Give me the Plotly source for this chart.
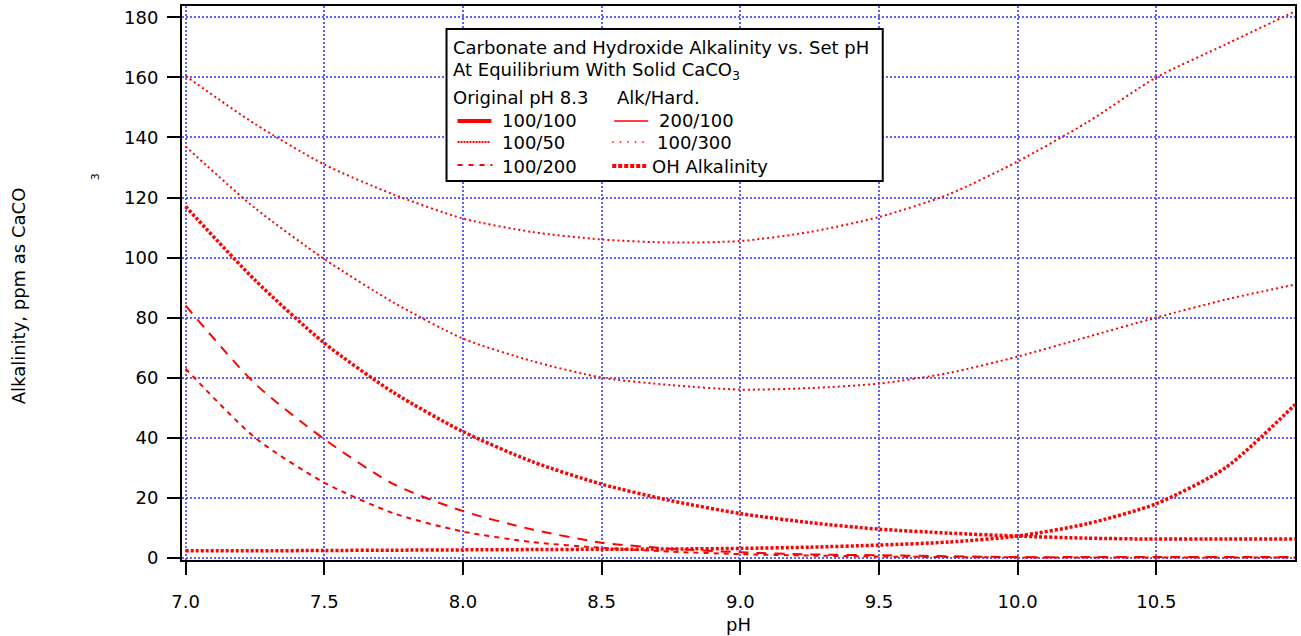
import plotly.graph_objects as go

# ---------------- data ----------------
ph = [7.0, 7.25, 7.5, 7.75, 8.0, 8.25, 8.5, 8.75, 9.0, 9.25, 9.5, 9.75,
      10.0, 10.25, 10.5, 10.75, 11.0]

alk_100_50 = [160.5, 144.5, 131, 121, 113, 108.5, 106, 105, 105.5, 108.5,
              113.5, 121, 132, 145, 160, 171, 182]
alk_200_100 = [137, 116.5, 99.5, 85, 73, 65.5, 60, 57.5, 56, 56.5, 58, 61.5,
               67, 73.5, 80, 86, 91]
alk_100_100 = [117, 92.5, 71.5, 55, 42, 32, 24.5, 19, 14.7, 11.7, 9.5, 8.2,
               7.2, 6.5, 6.2, 6.2, 6.2]
alk_100_200 = [84, 58, 39.5, 24.5, 15.5, 9.4, 5.0, 3.0, 1.8, 1.1, 0.8, 0.5,
               0.2, 0.2, 0.2, 0.2, 0.2]
alk_100_300 = [63, 40, 25, 14.8, 8.7, 5.2, 3.3, 2.0, 1.2, 0.7, 0.4, 0.2,
               0.1, 0.1, 0.1, 0.1, 0.1]
alk_oh = [2.3, 2.3, 2.4, 2.5, 2.6, 2.7, 2.8, 2.9, 3.1, 3.5, 4.2, 5.2, 7.2,
          11.3, 18, 30, 51]

x_tick_vals = [7.0, 7.5, 8.0, 8.5, 9.0, 9.5, 10.0, 10.5]
x_tick_text = ["7.0", "7.5", "8.0", "8.5", "9.0", "9.5", "10.0", "10.5"]
y_tick_vals = [0, 20, 40, 60, 80, 100, 120, 140, 160, 180]
y_tick_text = ["0", "20", "40", "60", "80", "100", "120", "140", "160", "180"]

legend_title_1 = "Carbonate and Hydroxide Alkalinity vs. Set pH"
legend_title_2 = "At Equilibrium With Solid CaCO<sub>3</sub>"
legend_head_left = "Original pH 8.3"
legend_head_right = "Alk/Hard."
legend_labels = ["100/100", "100/50", "100/200", "200/100", "100/300",
                 "OH Alkalinity"]

# ---------------- layout geometry ----------------
W, H = 1301, 636
L, R, T, B = 182, 1297, 6, 560
FONT = "DejaVu Sans, Verdana, sans-serif"
FS = 18
RED = "rgb(255,0,0)"
GRID = "rgb(96,96,255)"


def px(xp):
    return (xp - L) / (R - L)


def py(yp):
    return (B - yp) / (B - T)


fig = go.Figure()

series = [
    (alk_100_50, 2, "2px,3px"),
    (alk_200_100, 2, "2px,3px"),
    (alk_100_100, 3.5, "3px,2px"),
    (alk_100_200, 2, "10px,8px"),
    (alk_100_300, 2, "5px,5px"),
    (alk_oh, 3.5, "3px,2px"),
]
for vals, w, d in series:
    fig.add_trace(go.Scatter(
        x=ph, y=vals, mode="lines", showlegend=False, hoverinfo="skip",
        line=dict(color=RED, width=w, dash=d, shape="spline", smoothing=0.7)))

axis_common = dict(
    showline=True, linecolor="black", linewidth=2, mirror=True,
    ticks="outside", ticklen=13, tickwidth=2, tickcolor="black",
    showgrid=True, gridcolor=GRID, gridwidth=2, griddash="2px,2px",
    zeroline=False, tickfont=dict(family=FONT, size=FS, color="black"),
)

fig.update_layout(
    width=W, height=H, autosize=False,
    margin=dict(l=L, r=W - R, t=T, b=H - B, pad=0),
    paper_bgcolor="white", plot_bgcolor="white",
    font=dict(family=FONT, size=FS, color="black"),
    xaxis=dict(range=[6.987, 11.0], tickvals=x_tick_vals,
               ticktext=x_tick_text, ticklabelstandoff=11, **axis_common),
    yaxis=dict(range=[-0.77, 183.8], tickvals=y_tick_vals,
               ticktext=y_tick_text, ticklabelstandoff=5, **axis_common),
)

# ---------------- custom legend box ----------------
shapes = [dict(type="rect", xref="paper", yref="paper",
               x0=px(447), x1=px(884), y0=py(181), y1=py(29),
               line=dict(color="black", width=2), fillcolor="white",
               layer="above")]

samples = [
    (458, 492, 121, 4, "solid"),
    (458, 490, 142, 2, "2px,1px"),
    (458, 493, 165, 2, "5px,6px"),
    (615, 649, 121, 1.5, "solid"),
    (613, 647, 142, 1.5, "1.5px,6px"),
    (613, 648, 166, 4, "4px,2px"),
]
for x0, x1, yy, w, d in samples:
    shapes.append(dict(type="line", xref="paper", yref="paper",
                       x0=px(x0), x1=px(x1), y0=py(yy), y1=py(yy),
                       line=dict(color=RED, width=w, dash=d), layer="above"))
fig.update_layout(shapes=shapes)

annots = []


def note(text, xp, yp, size=FS, anchor="left", angle=0):
    annots.append(dict(text=text, xref="paper", yref="paper",
                       x=px(xp), y=py(yp), xanchor=anchor, yanchor="middle",
                       showarrow=False, textangle=angle,
                       font=dict(family=FONT, size=size, color="black")))


note(legend_title_1, 451, 48)
note(legend_title_2, 451, 71)
note(legend_head_left, 451, 97)
note(legend_head_right, 616, 97)
label_pos = [(501, 121), (501, 143), (501, 166), (658, 121), (656, 143),
             (651, 166)]
for lab, (xx, yy) in zip(legend_labels, label_pos):
    note(lab, xx, yy)

# axis titles
note("Alkalinity, ppm as CaCO", 18, 296, anchor="center", angle=-90)
note("3", 96, 177, size=11, anchor="center", angle=-90)
note("pH", 740, 625, anchor="center")

fig.update_layout(annotations=annots)

fig.write_html("out.html", config={"displayModeBar": False},
               post_script="document.body.style.margin='0';")
